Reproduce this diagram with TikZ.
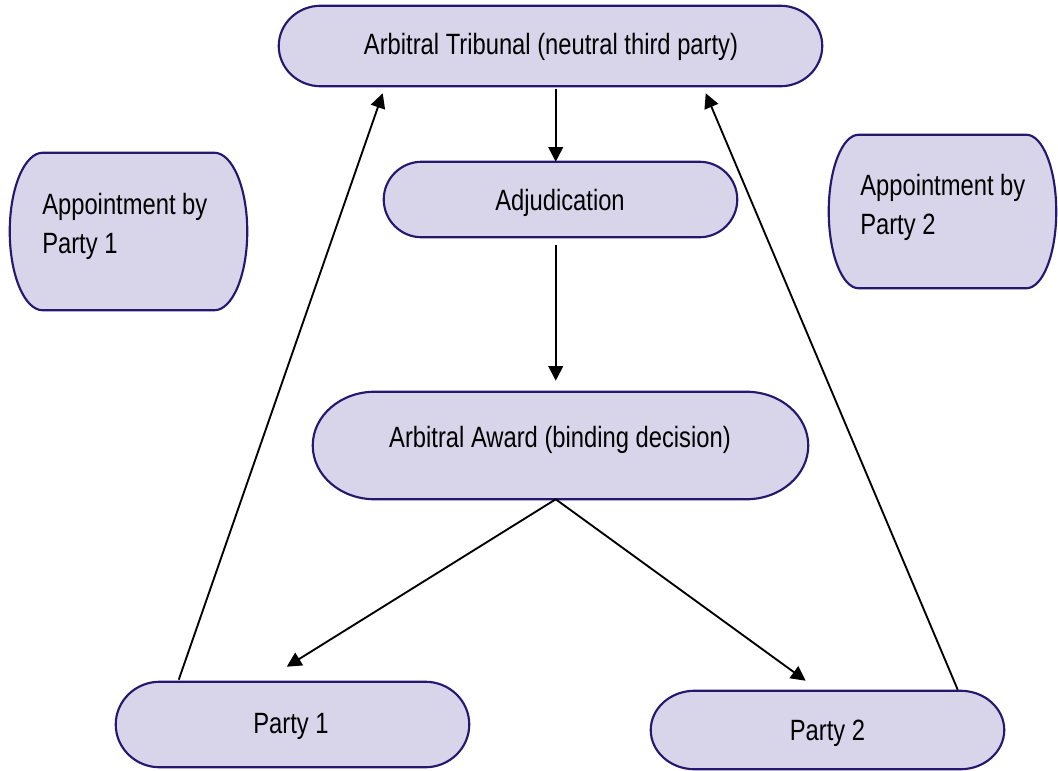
\documentclass[tikz,border=0pt]{standalone}
\usepackage{fontspec}
\setmainfont[FakeStretch=0.81]{Liberation Sans}
\usetikzlibrary{arrows.meta,calc,backgrounds}
\definecolor{boxfill}{RGB}{216,212,233}
\definecolor{boxline}{RGB}{38,24,110}
\begin{document}
\begin{tikzpicture}[x=0.75pt,y=0.75pt,
  termbox/.style 2 args={shape=rectangle,inner sep=0pt,
    minimum width=#1*0.75pt,minimum height=#2*0.75pt},
  lbl/.style={font=\fontsize{22pt}{29pt}\selectfont,inner sep=0pt},
  outline/.style={draw=boxline,fill=boxfill,line width=1.6pt},
  conn/.style={line width=1.4pt,-{Triangle[length=11pt,width=11pt]}}]
\useasboundingbox (0,0) rectangle (1058,-771);

% terminator boxes (outline drawn below on the background layer)
\node[termbox={543}{80}]  (trib)  at (550.5,-46)  {};
\node[termbox={353}{75}]  (adj)   at (560.5,-199.5) {};
\node[termbox={495}{107}] (award) at (560.5,-445.5) {};
\node[termbox={237}{157}] (app1)  at (128.5,-231.5) {};
\node[termbox={227}{153}] (app2)  at (942.5,-211.5) {};
\node[termbox={353}{85}]  (p1)    at (292.5,-724.5) {};
\node[termbox={353}{78}]  (p2)    at (827.5,-730)   {};

\begin{scope}[on background layer]
\foreach \nm/\ex in {trib/42,adj/38,award/62,app1/33,app2/30,p1/44,p2/44} {
  \draw[outline] let \p1=(\nm.north west), \p2=(\nm.south east),
      \n1={(\y1-\y2)/2} in
    (\x1+\ex*0.75pt,\y1) -- (\x2-\ex*0.75pt,\y1)
    arc[start angle=90,end angle=-90,x radius=\ex*0.75pt,y radius=\n1]
    -- (\x1+\ex*0.75pt,\y2)
    arc[start angle=270,end angle=90,x radius=\ex*0.75pt,y radius=\n1]
    -- cycle;
}
\end{scope}

% box texts
\node[lbl,anchor=base] (trib-t)  at (551,-55)   {Arbitral Tribunal (neutral third party)};
\node[lbl,anchor=base] (adj-t)   at (560,-210)  {Adjudication};
\node[lbl,anchor=base] (award-t) at (560,-447)  {Arbitral Award (binding decision)};
\node[lbl,anchor=base] (p1-t)    at (291,-733)  {Party 1};
\node[lbl,anchor=base] (p2-t)    at (827.5,-740) {Party 2};
\node[lbl,anchor=base west,align=left] (app1-t) at (42,-253)  {Appointment by\\Party 1};
\node[lbl,anchor=base west,align=left] (app2-t) at (860,-234) {Appointment by\\Party 2};

% connectors
\draw[conn] ($(trib.south west)+(277,-3)$) -- ($(adj.north west)+(172,0)$);
\draw[conn] ($(adj.south west)+(172,-8)$) -- ($(award.north west)+(243,11)$);
\draw[conn] ($(award.south west)+(243,0)$) -- ($(p1.north west)+(171,15)$);
\draw[conn] ($(award.south west)+(243,0)$) -- ($(p2.north west)+(155,10)$);
\draw[conn] ($(p1.north west)+(63,2)$) -- ($(trib.south west)+(104,-7)$);
\draw[conn] ($(p2.north west)+(307,1)$) -- ($(trib.south west)+(427,-7)$);
\end{tikzpicture}
\end{document}
